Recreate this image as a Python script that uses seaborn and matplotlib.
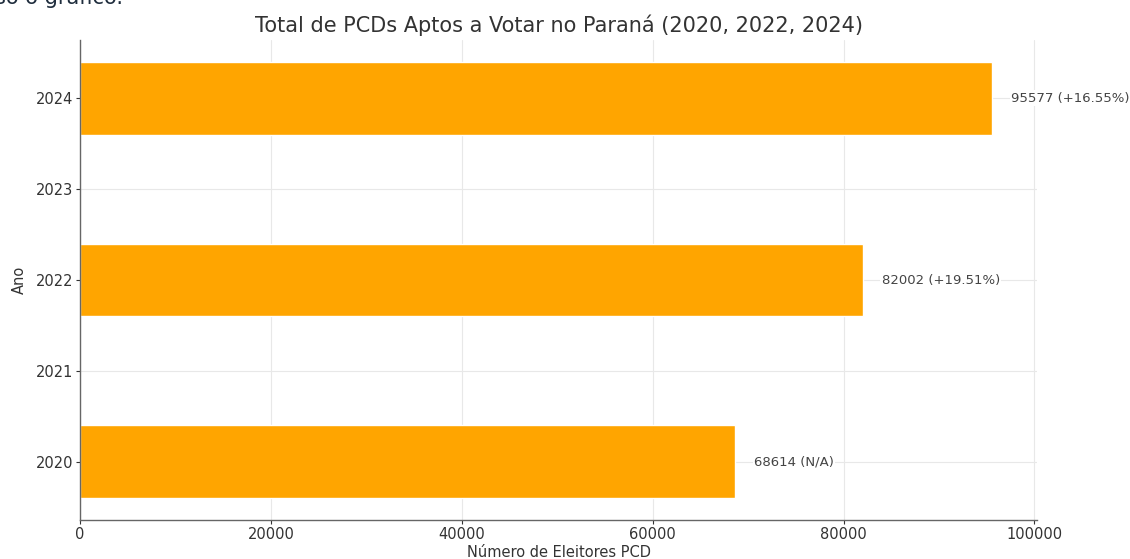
import matplotlib
matplotlib.use("Agg")
import matplotlib.pyplot as plt
import pandas as pd
import seaborn as sns

# data
anos = [2020, 2022, 2024]
eleitores_pcd = [68614, 82002, 95577]
variacao = ["N/A", "+19.51%", "+16.55%"]

df = pd.DataFrame({"Ano": anos, "Eleitores": eleitores_pcd, "Variacao": variacao})

sns.set_theme(style="whitegrid")
plt.rcParams["font.family"] = ["DejaVu Sans"]

fig, ax = plt.subplots(figsize=(11.3, 5.59), dpi=100)
fig.subplots_adjust(left=0.0708, right=0.918, bottom=0.07, top=0.928)

sns.barplot(data=df, x="Eleitores", y="Ano", orient="h", native_scale=True,
            color="#FFA500", saturation=1, width=0.4, ax=ax)

for _, row in df.iterrows():
    ax.text(row["Eleitores"] + 2000, row["Ano"], f"{row['Eleitores']} ({row['Variacao']})",
            va="center", ha="left", fontsize=9.5, color="#444444",
            bbox=dict(facecolor="white", edgecolor="none", pad=1))

ax.set_yticks(range(2020, 2025))
ax.set_xlim(0, 100300)
ax.set_title("Total de PCDs Aptos a Votar no Paraná (2020, 2022, 2024)",
             fontsize=15, color="#333333", pad=6)
ax.set_xlabel("Número de Eleitores PCD", fontsize=10.5, color="#333333", labelpad=2)
ax.set_ylabel("Ano", fontsize=10.5, color="#333333", labelpad=6)
ax.tick_params(axis="both", labelsize=10.5, colors="#333333", length=3, width=0.8,
               left=True, bottom=True, pad=2)
ax.grid(True, color="#e8e8e8", linewidth=0.8)
for side in ["top", "right"]:
    ax.spines[side].set_visible(False)
for side in ["left", "bottom"]:
    ax.spines[side].set_color("#666666")
    ax.spines[side].set_linewidth(1.0)

# leftover text from the cropped screenshot
fig.text(-0.004, 1 - 3.5 / 559, "so o gráfico.", fontsize=15, color="#1f2d3d",
         va="baseline", ha="left")

fig.savefig("out.png", dpi=100)
